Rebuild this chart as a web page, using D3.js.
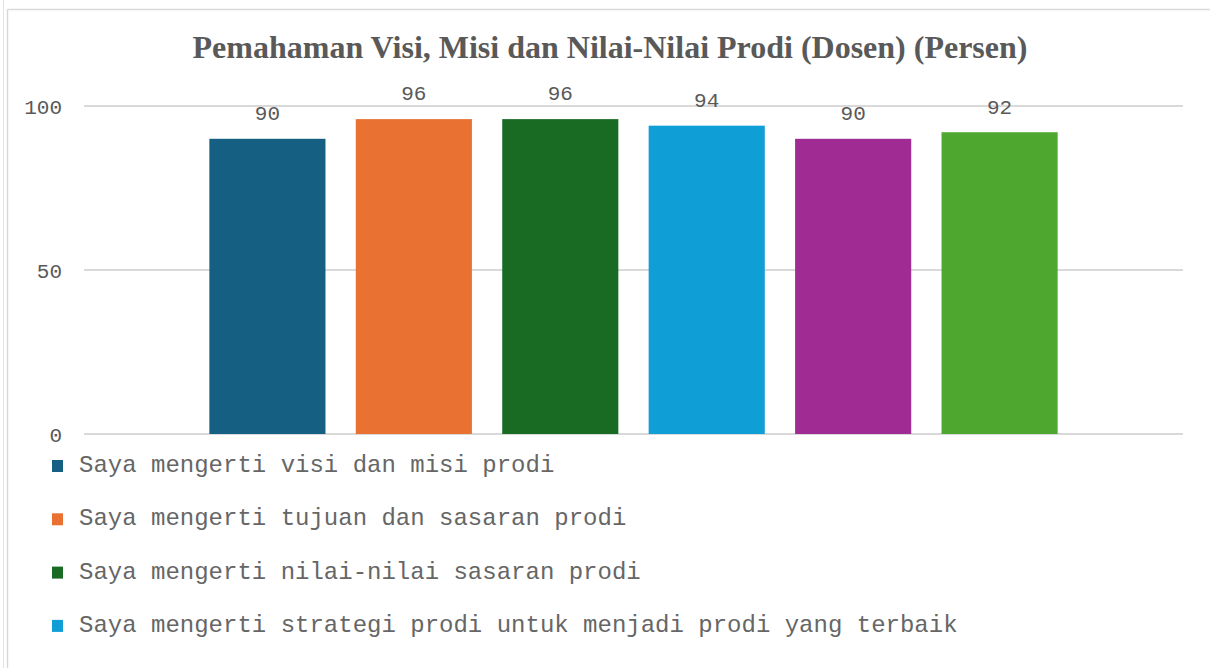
<!DOCTYPE html>
<html>
<head>
<meta charset="utf-8">
<script src="https://cdn.jsdelivr.net/npm/d3@7/dist/d3.min.js"></script>
<style>
  html, body { margin: 0; padding: 0; background: #fff; }
  svg { display: block; }
</style>
</head>
<body>
<svg id="chart" width="1210" height="668"></svg>
<script>
const titleText = "Pemahaman Visi, Misi dan Nilai-Nilai Prodi (Dosen) (Persen)";
const seriesKeys = ["s1", "s2", "s3", "s4", "s5", "s6"];
const seriesValues = [90, 96, 96, 94, 90, 92];
const seriesColors = ["#156082", "#E97132", "#196B24", "#0F9ED5", "#A02B93", "#4EA72E"];
const legendLabels = [
  "Saya mengerti visi dan misi prodi",
  "Saya mengerti tujuan dan sasaran prodi",
  "Saya mengerti nilai-nilai sasaran prodi",
  "Saya mengerti strategi prodi untuk menjadi prodi yang terbaik"
];
const yTicks = [0, 50, 100];

const svg = d3.select("#chart");
const W = 1210, H = 668;
const plot = { left: 84, right: 1183, top: 106, bottom: 434 };

// chart frame
svg.append("line").attr("x1", 3.5).attr("x2", 3.5).attr("y1", 0).attr("y2", H)
  .attr("stroke", "#e3e3e3").attr("stroke-width", 1);
svg.append("line").attr("x1", 7.5).attr("x2", 7.5).attr("y1", 9.5).attr("y2", H)
  .attr("stroke", "#d9d9d9").attr("stroke-width", 1.5);
svg.append("line").attr("x1", 7.5).attr("x2", W).attr("y1", 9.5).attr("y2", 9.5)
  .attr("stroke", "#d9d9d9").attr("stroke-width", 1.5);

// title
svg.append("text")
  .attr("x", 610).attr("y", 58)
  .attr("text-anchor", "middle")
  .attr("font-family", "'Liberation Serif', 'Times New Roman', serif")
  .attr("font-weight", "bold")
  .attr("font-size", 32)
  .attr("fill", "#595959")
  .text(titleText);

const y = d3.scaleLinear().domain([0, 100]).range([plot.bottom, plot.top]);
const x = d3.scaleBand().domain(seriesKeys).range([plot.left, plot.right])
  .paddingInner(0.207).paddingOuter(0.856);

// gridlines
svg.append("g").selectAll("line").data(yTicks).join("line")
  .attr("x1", plot.left).attr("x2", plot.right)
  .attr("y1", d => y(d)).attr("y2", d => y(d))
  .attr("stroke", "#d9d9d9").attr("stroke-width", 2);

// y axis labels
const yAxis = d3.axisLeft(y).tickValues(yTicks).tickSize(0).tickPadding(0);
const gy = svg.append("g").attr("transform", `translate(${plot.left - 22},0)`).call(yAxis);
gy.select(".domain").remove();
gy.selectAll("text")
  .attr("font-family", "'Liberation Mono', 'Courier New', monospace")
  .attr("font-size", 21)
  .attr("fill", "#595959")
  .attr("dy", "0.35em");

// bars
const data = seriesKeys.map((k, i) => ({ key: k, value: seriesValues[i], color: seriesColors[i] }));
svg.append("g").selectAll("rect").data(data).join("rect")
  .attr("x", d => x(d.key))
  .attr("width", x.bandwidth())
  .attr("y", d => y(d.value))
  .attr("height", d => y(0) - y(d.value))
  .attr("fill", d => d.color);

// data labels
svg.append("g").selectAll("text").data(data).join("text")
  .attr("x", d => x(d.key) + x.bandwidth() / 2)
  .attr("y", d => y(d.value) - 26)
  .attr("dy", "0.35em")
  .attr("text-anchor", "middle")
  .attr("font-family", "'Liberation Mono', 'Courier New', monospace")
  .attr("font-size", 21)
  .attr("fill", "#595959")
  .text(d => d.value);

// legend
const lg = svg.append("g").selectAll("g").data(legendLabels).join("g")
  .attr("transform", (d, i) => `translate(52, ${472 + i * 53.3})`);
lg.append("rect")
  .attr("x", 0).attr("y", -12).attr("width", 11).attr("height", 12)
  .attr("fill", (d, i) => seriesColors[i]);
lg.append("text")
  .attr("x", 27).attr("y", 0)
  .attr("font-family", "'Liberation Mono', 'Courier New', monospace")
  .attr("font-size", 24)
  .attr("fill", "#666666")
  .text(d => d);
</script>
</body>
</html>
